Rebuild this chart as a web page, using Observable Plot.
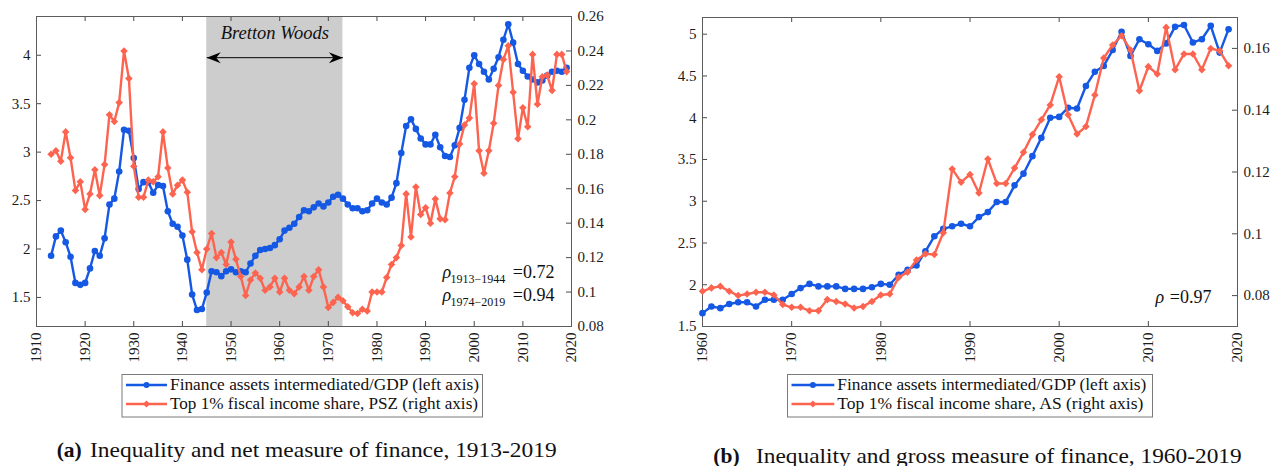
<!DOCTYPE html>
<html>
<head>
<meta charset="utf-8">
<script src="https://cdn.jsdelivr.net/npm/d3@7"></script>
<script src="https://cdn.jsdelivr.net/npm/@observablehq/plot@0.6"></script>
<style>
  body { margin: 0; background: #fff; }
  #fig { position: relative; width: 1273px; height: 466px; overflow: hidden; background: #fff; }
  #fig .panel { position: absolute; top: 0; }
  #overlay { position: absolute; left: 0; top: 0; }
</style>
</head>
<body>
<div id="fig"></div>
<script>
// ---- Panel (a): net measure of finance vs. PSZ top 1% share, 1913-2019 ----
const yearsA = [1913,1914,1915,1916,1917,1918,1919,1920,1921,1922,
  1923,1924,1925,1926,1927,1928,1929,1930,1931,1932,
  1933,1934,1935,1936,1937,1938,1939,1940,1941,1942,
  1943,1944,1945,1946,1947,1948,1949,1950,1951,1952,
  1953,1954,1955,1956,1957,1958,1959,1960,1961,1962,
  1963,1964,1965,1966,1967,1968,1969,1970,1971,1972,
  1973,1974,1975,1976,1977,1978,1979,1980,1981,1982,
  1983,1984,1985,1986,1987,1988,1989,1990,1991,1992,
  1993,1994,1995,1996,1997,1998,1999,2000,2001,2002,
  2003,2004,2005,2006,2007,2008,2009,2010,2011,2012,
  2013,2014,2015,2016,2017,2018,2019];
const financeNet = [1.93,2.13,2.19,2.07,1.92,1.65,1.63,1.65,1.80,1.98,
  1.93,2.11,2.46,2.52,2.80,3.23,3.22,2.94,2.62,2.69,
  2.69,2.58,2.66,2.65,2.39,2.26,2.23,2.14,1.89,1.53,
  1.37,1.38,1.55,1.77,1.76,1.72,1.77,1.79,1.76,1.77,
  1.76,1.85,1.93,1.99,2.00,2.01,2.04,2.10,2.19,2.22,
  2.26,2.33,2.40,2.39,2.43,2.47,2.44,2.48,2.54,2.56,
  2.52,2.46,2.42,2.42,2.39,2.40,2.47,2.52,2.48,2.46,
  2.53,2.68,2.99,3.27,3.34,3.24,3.14,3.08,3.08,3.18,
  3.05,2.96,2.95,3.07,3.25,3.54,3.87,4.00,3.91,3.83,
  3.75,3.86,3.98,4.16,4.32,4.13,3.91,3.84,3.78,3.75,
  3.72,3.74,3.79,3.83,3.84,3.83,3.87];
const top1PSZ = [0.180,0.182,0.176,0.193,0.178,0.159,0.164,0.148,0.157,0.171,
  0.156,0.174,0.203,0.199,0.210,0.240,0.224,0.173,0.155,0.155,
  0.165,0.164,0.167,0.193,0.172,0.157,0.162,0.165,0.158,0.135,
  0.123,0.113,0.125,0.134,0.120,0.123,0.116,0.129,0.119,0.109,
  0.098,0.107,0.111,0.108,0.101,0.103,0.108,0.100,0.108,0.101,
  0.099,0.103,0.109,0.101,0.109,0.113,0.103,0.091,0.094,0.097,
  0.095,0.0915,0.088,0.0876,0.090,0.089,0.100,0.100,0.100,0.1085,
  0.116,0.120,0.127,0.157,0.132,0.161,0.145,0.149,0.140,0.154,
  0.1425,0.142,0.1575,0.167,0.186,0.197,0.201,0.221,0.182,0.169,
  0.182,0.198,0.220,0.235,0.243,0.216,0.189,0.207,0.196,0.238,
  0.209,0.225,0.226,0.217,0.238,0.238,0.228];

// ---- Panel (b): gross measure of finance vs. AS top 1% share, 1960-2019 ----
const yearsB = [1960,1961,1962,1963,1964,1965,1966,1967,1968,1969,
  1970,1971,1972,1973,1974,1975,1976,1977,1978,1979,
  1980,1981,1982,1983,1984,1985,1986,1987,1988,1989,
  1990,1991,1992,1993,1994,1995,1996,1997,1998,1999,
  2000,2001,2002,2003,2004,2005,2006,2007,2008,2009,
  2010,2011,2012,2013,2014,2015,2016,2017,2018,2019];
const financeGross = [1.66,1.74,1.72,1.77,1.79,1.79,1.74,1.82,1.82,1.82,
  1.89,1.96,2.01,1.98,1.98,1.98,1.95,1.95,1.95,1.97,
  2.01,2.00,2.12,2.18,2.23,2.40,2.58,2.67,2.70,2.73,
  2.70,2.81,2.87,2.99,2.99,3.19,3.33,3.54,3.76,4.00,
  4.01,4.12,4.11,4.38,4.55,4.62,4.81,5.03,4.74,4.94,
  4.88,4.80,4.89,5.09,5.11,4.90,4.94,5.10,4.78,5.06];
const top1AS = [0.0814,0.0825,0.0830,0.0814,0.0800,0.0805,0.0811,0.0811,0.0802,0.0771,
  0.0762,0.0762,0.0751,0.0751,0.0787,0.0781,0.0773,0.0760,0.0765,0.0781,
  0.0802,0.0805,0.0859,0.0876,0.0915,0.0935,0.0933,0.1003,0.1210,0.1167,
  0.1192,0.1132,0.1242,0.1163,0.1163,0.1213,0.1264,0.1321,0.1369,0.1417,
  0.1508,0.1385,0.1323,0.1347,0.1449,0.1569,0.1611,0.1641,0.1595,0.1463,
  0.1541,0.1517,0.1668,0.1531,0.1582,0.1582,0.1531,0.1600,0.1592,0.1544];

// ---- Axis ticks ----
const xTicksA = [1910,1920,1930,1940,1950,1960,1970,1980,1990,2000,2010,2020];
const xTicksB = [1960,1970,1980,1990,2000,2010,2020];
const leftTicksA = [1.5,2,2.5,3,3.5,4];
const rightTicksA = [0.08,0.10,0.12,0.14,0.16,0.18,0.20,0.22,0.24,0.26];
const leftTicksB = [1.5,2,2.5,3,3.5,4,4.5,5];
const rightTicksB = [0.08,0.10,0.12,0.14,0.16];

// Bretton Woods era shading
const brettonWoods = [{start: 1945, end: 1973, label: "Bretton Woods"}];

const BLUE = "#1458e4";
const RED = "#fd6450";
const FONT = "'Liberation Serif', 'Times New Roman', serif";

// filled "stealth" arrow heads; tip sits on the anchor point
const headLeft = {draw(ctx) { ctx.moveTo(0, 0); ctx.lineTo(14, -5.5); ctx.lineTo(9.5, 0); ctx.lineTo(14, 5.5); ctx.closePath(); }};
const headRight = {draw(ctx) { ctx.moveTo(0, 0); ctx.lineTo(-14, -5.5); ctx.lineTo(-9.5, 0); ctx.lineTo(-14, 5.5); ctx.closePath(); }};

function panel({years, left, right, xDomain, xTicks, yDomain, yTicks, rDomain, rTicks,
                width, marginLeft, marginRight, marginTop, before = [], after = []}) {
  const height = 370, marginBottom = 44;
  const innerW = width - marginLeft - marginRight;
  const innerH = height - marginTop - marginBottom;
  // the right-hand axis shares the left scale through a linear map
  const k = (yDomain[1] - yDomain[0]) / (rDomain[1] - rDomain[0]);
  const toLeft = v => yDomain[0] + (v - rDomain[0]) * k;
  const fromLeft = v => rDomain[0] + (v - yDomain[0]) / k;
  const rows = years.map((year, i) => ({year, finance: left[i], top1: toLeft(right[i])}));
  const rTicksL = rTicks.map(toLeft);
  const tickStroke = "#4a4a4a";
  return Plot.plot({
    width, height, marginLeft, marginRight, marginTop, marginBottom,
    x: {domain: xDomain},
    y: {domain: yDomain},
    style: {fontFamily: FONT, fontSize: "15px", color: "#1c1c1c", background: "transparent", overflow: "visible"},
    marks: [
      ...before,
      // inward tick marks on all four sides
      Plot.tickX(xTicks, {x: d => d, insetBottom: innerH - 5, stroke: tickStroke}),
      Plot.tickX(xTicks, {x: d => d, insetTop: innerH - 5, stroke: tickStroke}),
      Plot.tickY(yTicks, {y: d => d, insetRight: innerW - 5, stroke: tickStroke}),
      Plot.tickY(rTicksL, {y: d => d, insetLeft: innerW - 5, stroke: tickStroke}),
      Plot.frame({stroke: "#5c5c5c", strokeWidth: 1}),
      Plot.axisX({ticks: xTicks, tickRotate: -90, tickSize: 0, tickPadding: 6, tickFormat: d => String(d), label: null}),
      Plot.axisY({anchor: "left", ticks: yTicks, tickSize: 0, tickPadding: 6, tickFormat: d => String(d), label: null}),
      Plot.axisY({anchor: "right", ticks: rTicksL, tickSize: 0, tickPadding: 6,
                  tickFormat: d => String(+fromLeft(d).toFixed(2)), label: null}),
      Plot.line(rows, {x: "year", y: "finance", stroke: BLUE, strokeWidth: 2.4}),
      Plot.dot(rows, {x: "year", y: "finance", r: 3.3, fill: BLUE, stroke: "none"}),
      Plot.line(rows, {x: "year", y: "top1", stroke: RED, strokeWidth: 2.4}),
      Plot.dot(rows, {x: "year", y: "top1", symbol: "diamond2", r: 3.4, fill: RED, stroke: "none"}),
      ...after
    ]
  });
}

const arrowY = 3.975, bwLabelY = 4.232;
const yDomA = [1.2, 4.4];

const plotA = panel({
  years: yearsA, left: financeNet, right: top1PSZ,
  xDomain: [1910, 2020], xTicks: xTicksA,
  yDomain: yDomA, yTicks: leftTicksA,
  rDomain: [0.08, 0.26], rTicks: rightTicksA,
  width: 640, marginLeft: 36, marginRight: 69, marginTop: 16,
  before: [
    Plot.rect(brettonWoods, {x1: "start", x2: "end", y1: () => yDomA[0], y2: () => yDomA[1], fill: "#cdcdcd"})
  ],
  after: [
    Plot.link(brettonWoods, {x1: "start", x2: "end", y1: () => arrowY, y2: () => arrowY, stroke: "#000", strokeWidth: 1}),
    Plot.dot(brettonWoods, {x: "start", y: () => arrowY, symbol: headLeft, fill: "#000", stroke: "none"}),
    Plot.dot(brettonWoods, {x: "end", y: () => arrowY, symbol: headRight, fill: "#000", stroke: "none"}),
    Plot.text(brettonWoods, {x: d => (d.start + d.end) / 2, y: () => bwLabelY, text: "label",
      fontStyle: "italic", fontSize: 18.5, fill: "#111"}),
    Plot.text(["ρ"], {frameAnchor: "bottom-right", dx: -129, dy: -49, textAnchor: "start", fontSize: 18, fontStyle: "italic", fill: "#111"}),
    Plot.text(["1913−1944"], {frameAnchor: "bottom-right", dx: -121, dy: -44, textAnchor: "start", fontSize: 12, fill: "#111"}),
    Plot.text(["=0.72"], {frameAnchor: "bottom-right", dx: -17, dy: -49, textAnchor: "end", fontSize: 18, fill: "#111"}),
    Plot.text(["ρ"], {frameAnchor: "bottom-right", dx: -129, dy: -26, textAnchor: "start", fontSize: 18, fontStyle: "italic", fill: "#111"}),
    Plot.text(["1974−2019"], {frameAnchor: "bottom-right", dx: -121, dy: -21, textAnchor: "start", fontSize: 12, fill: "#111"}),
    Plot.text(["=0.94"], {frameAnchor: "bottom-right", dx: -17, dy: -26, textAnchor: "end", fontSize: 18, fill: "#111"})
  ]
});

const plotB = panel({
  years: yearsB, left: financeGross, right: top1AS,
  xDomain: [1960, 2020], xTicks: xTicksB,
  yDomain: [1.5, 5.2], yTicks: leftTicksB,
  rDomain: [0.07, 0.17], rTicks: rightTicksB,
  width: 633, marginLeft: 62, marginRight: 36, marginTop: 17,
  after: [
    Plot.text(["ρ"], {frameAnchor: "bottom-right", dx: -82, dy: -24, textAnchor: "start", fontSize: 18, fontStyle: "italic", fill: "#111"}),
    Plot.text(["=0.97"], {frameAnchor: "bottom-right", dx: -26, dy: -24, textAnchor: "end", fontSize: 18, fill: "#111"})
  ]
});

const fig = document.getElementById("fig");
plotA.classList.add("panel"); plotA.style.left = "0px";
plotB.classList.add("panel"); plotB.style.left = "640px";
fig.appendChild(plotA);
fig.appendChild(plotB);

// ---- Legends and sub-captions ----
const overlay = d3.select(fig).append("svg").attr("id", "overlay")
  .attr("width", 1273).attr("height", 466)
  .style("font-family", FONT);

function legend(x, y, w, h, textX, rows) {
  const g = overlay.append("g");
  g.append("rect").attr("x", x + 0.5).attr("y", y + 0.5).attr("width", w).attr("height", h)
    .attr("fill", "#fff").attr("stroke", "#7a7a7a").attr("stroke-width", 1);
  rows.forEach((r, i) => {
    const cy = y + 11 + i * 19;
    g.append("line").attr("x1", x + 4.5).attr("x2", textX - 3).attr("y1", cy).attr("y2", cy)
      .attr("stroke", r.color).attr("stroke-width", 2.4);
    const mx = (x + 4.5 + textX - 3) / 2;
    g.append("path").attr("transform", `translate(${mx},${cy})`)
      .attr("d", d3.symbol(r.symbol, r.size)()).attr("fill", r.color);
    g.append("text").attr("x", textX).attr("y", cy).attr("dy", "0.33em")
      .attr("font-size", 16).attr("fill", "#111")
      .attr("textLength", r.len).attr("lengthAdjust", "spacingAndGlyphs")
      .text(r.label);
  });
}

legend(121.5, 374, 360.5, 42.5, 170, [
  {color: BLUE, symbol: d3.symbolCircle, size: Math.PI * 3 * 3, label: "Finance assets intermediated/GDP (left axis)", len: 309},
  {color: RED, symbol: d3.symbolDiamond2, size: Math.PI * 3.2 * 3.2, label: "Top 1% fiscal income share, PSZ (right axis)", len: 308}
]);
legend(787, 374, 365, 42.5, 837.3, [
  {color: BLUE, symbol: d3.symbolCircle, size: Math.PI * 3 * 3, label: "Finance assets intermediated/GDP (left axis)", len: 309},
  {color: RED, symbol: d3.symbolDiamond2, size: Math.PI * 3.2 * 3.2, label: "Top 1% fiscal income share, AS (right axis)", len: 306}
]);

function caption(x, textX, baseline, tag, label, len) {
  overlay.append("text").attr("x", x).attr("y", baseline)
    .attr("font-size", 21.5).attr("font-weight", "bold").attr("fill", "#111").text(tag);
  overlay.append("text").attr("x", textX).attr("y", baseline)
    .attr("font-size", 21.5).attr("fill", "#111")
    .attr("textLength", len).attr("lengthAdjust", "spacingAndGlyphs").text(label);
}
caption(56.7, 90, 456.5, "(a)", "Inequality and net measure of finance, 1913-2019", 466.7);
caption(713.3, 756, 462.5, "(b)", "Inequality and gross measure of finance, 1960-2019", 485.7);
</script>
</body>
</html>
